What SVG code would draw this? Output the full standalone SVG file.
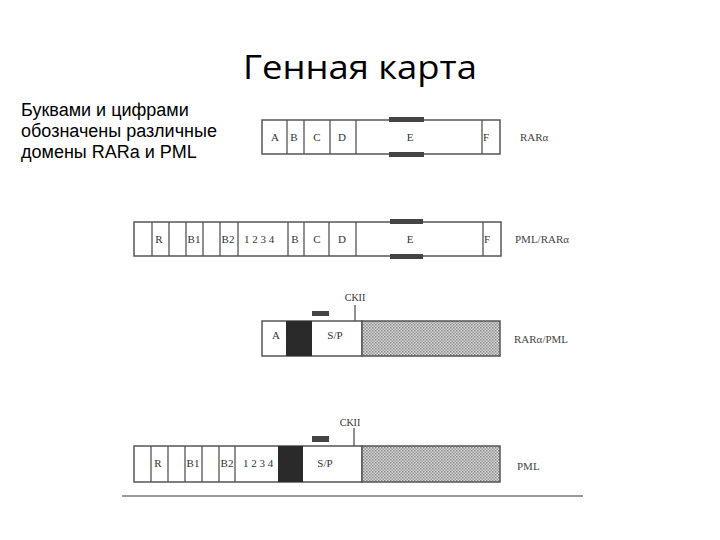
<svg xmlns="http://www.w3.org/2000/svg" width="720" height="540" viewBox="0 0 720 540">
<style>
.box{fill:#fff;stroke:#555;stroke-width:1.5}
.div{stroke:#555;stroke-width:1.3}
.bar{fill:#444}
.blk{fill:#2a2a2a}
.hat{fill:url(#dots);stroke:#555;stroke-width:1.5}
.lbl{font-family:"Liberation Serif",serif;font-size:11px;fill:#333;text-anchor:middle}
.name{font-family:"Liberation Serif",serif;font-size:11px;fill:#444}
.title{font-family:"Open Sans","Liberation Sans",sans-serif;font-size:33px;fill:#000}
.note{font-family:"Liberation Sans",Arial,sans-serif;font-size:18px;fill:#000}
</style>
<defs>
<pattern id="dots" width="3" height="3" patternUnits="userSpaceOnUse">
<rect width="3" height="3" fill="#d8d8d8"/>
<rect width="1.5" height="1.5" fill="#888"/>
<rect x="1.5" y="1.5" width="1.5" height="1.5" fill="#999"/>
</pattern>
</defs>
<rect width="720" height="540" fill="#fff"/>
<text class="title" x="243" y="79" textLength="234" lengthAdjust="spacingAndGlyphs">Генная карта</text>
<g id="note">
<text class="note" x="21" y="116">Буквами и цифрами</text>
<text class="note" x="21" y="137">обозначены различные</text>
<text class="note" x="21" y="158">домены RARa и PML</text>
</g>

<g id="rara">
<rect class="box" x="262" y="120" width="238" height="34"/>
<path class="div" d="M287 120V154M304 120V154M330 120V154M356 120V154M482 120V154"/>
<rect class="bar" x="389" y="117" width="35" height="5"/>
<rect class="bar" x="389" y="152" width="35" height="5"/>
<text class="lbl" x="275" y="141">A</text>
<text class="lbl" x="294" y="141">B</text>
<text class="lbl" x="317" y="141">C</text>
<text class="lbl" x="342" y="141">D</text>
<text class="lbl" x="410" y="141">E</text>
<text class="lbl" x="486" y="141">F</text>
<text class="name" x="520" y="141">RARα</text>
</g>

<g id="pml-rara">
<rect class="box" x="134" y="222" width="367" height="34"/>
<path class="div" d="M152 222V256M169 222V256M186 222V256M203 222V256M220 222V256M238 222V256M288 222V256M304 222V256M329 222V256M356 222V256M483 222V256"/>
<rect class="bar" x="390" y="219" width="33" height="5"/>
<rect class="bar" x="390" y="254" width="33" height="5"/>
<text class="lbl" x="159" y="243">R</text>
<text class="lbl" x="194" y="243">B1</text>
<text class="lbl" x="228" y="243">B2</text>
<text class="lbl" x="259" y="243">1 2 3 4</text>
<text class="lbl" x="295" y="243">B</text>
<text class="lbl" x="317" y="243">C</text>
<text class="lbl" x="342" y="243">D</text>
<text class="lbl" x="410" y="243">E</text>
<text class="lbl" x="487" y="243">F</text>
<text class="name" x="515" y="243">PML/RARα</text>
</g>

<g id="rara-pml">
<rect class="box" x="262" y="321" width="100" height="35"/>
<rect class="blk" x="286" y="321" width="26" height="35"/>
<rect class="hat" x="362" y="321" width="138" height="35"/>
<rect class="bar" x="312" y="311" width="17" height="5"/>
<path class="div" d="M355 305V321"/>
<text class="lbl" x="355" y="301" style="font-size:10px">CKII</text>
<text class="lbl" x="276" y="339">A</text>
<text class="lbl" x="335" y="339">S/P</text>
<text class="name" x="514" y="343">RARα/PML</text>
</g>

<g id="pml">
<rect class="box" x="134" y="446" width="228" height="36"/>
<path class="div" d="M151 446V482M168 446V482M185 446V482M202 446V482M219 446V482M235 446V482"/>
<rect class="blk" x="278" y="446" width="25" height="36"/>
<rect class="hat" x="362" y="446" width="138" height="36"/>
<rect class="bar" x="312" y="436" width="17" height="6"/>
<path class="div" d="M354 428V446"/>
<text class="lbl" x="350" y="426" style="font-size:10px">CKII</text>
<text class="lbl" x="158" y="467">R</text>
<text class="lbl" x="193" y="467">B1</text>
<text class="lbl" x="227" y="467">B2</text>
<text class="lbl" x="258" y="467">1 2 3 4</text>
<text class="lbl" x="325" y="467">S/P</text>
<text class="name" x="517" y="470">PML</text>
</g>

<g id="connectors">
<path d="M122 496H583" stroke="#777" stroke-width="1.5"/>
</g>
</svg>
